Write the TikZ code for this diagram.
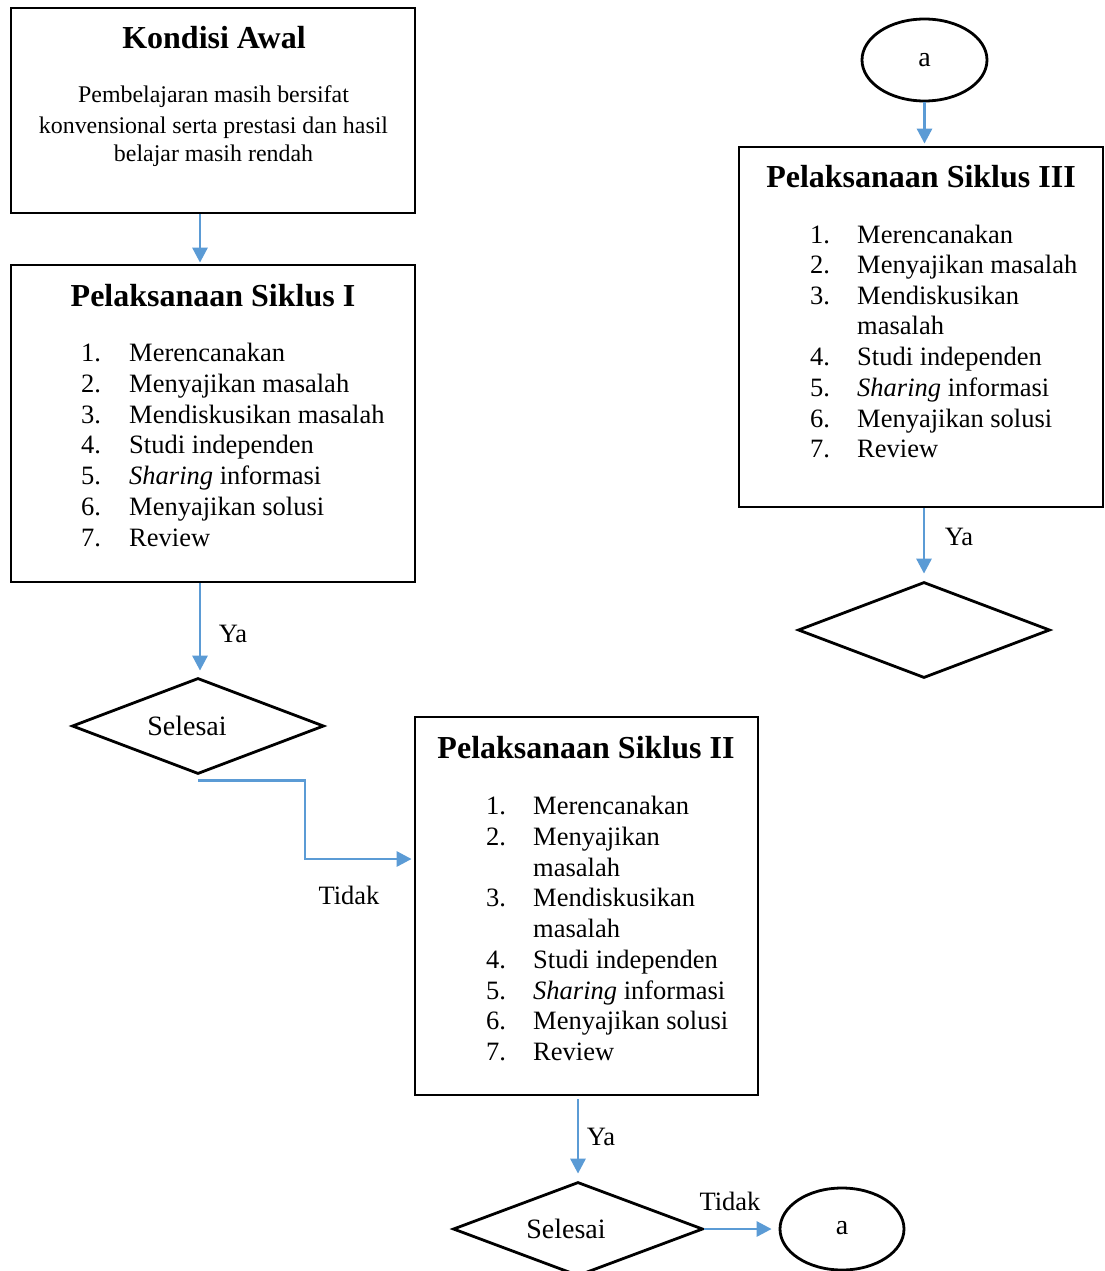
\documentclass[tikz,border=0pt]{standalone}
\usepackage{fontspec}
\setmainfont{Liberation Serif}
\usetikzlibrary{shapes.geometric,arrows.meta}
\definecolor{flow}{RGB}{91,155,213}
\newcommand\fBody{\fontsize{26.5pt}{30.7pt}\selectfont}
\newcommand\fTitle{\fontsize{32pt}{36pt}\selectfont\bfseries}
\newcommand\fSmall{\fontsize{23.9pt}{29pt}\selectfont}
\newcommand\fSel{\fontsize{28pt}{32pt}\selectfont}
\begin{document}
\begin{tikzpicture}[x=1pt,y=-1pt,
  box/.style={draw,line width=2.8pt,inner sep=0,rectangle},
  dia/.style={draw,line width=2.8pt,inner sep=0,diamond},
  oval/.style={draw,line width=2.8pt,inner sep=0,ellipse},
  conn/.style={draw=flow,line width=2.9pt,-{Triangle[length=15pt,width=15pt]}},
  item/.style={anchor=base west,inner sep=0,font=\fBody},
  ttl/.style={anchor=base,inner sep=0,font=\fTitle},
  lbl/.style={inner sep=0,font=\fBody}]
\useasboundingbox (0,0) rectangle (1104,1271);
\fill[white] (0,0) rectangle (1104,1271);

% boxes
\node[box,minimum width=404,minimum height=205] (k) at (213,110.5) {};
\node[box,minimum width=404,minimum height=317] (s1) at (213,423.5) {};
\node[box,minimum width=343,minimum height=378] (s2) at (586.5,906) {};
\node[box,minimum width=364,minimum height=360] (s3) at (921,327) {};

% decisions and connectors
\node[dia,minimum width=252,minimum height=96] (d1) at (198,726) {};
\node[dia,minimum width=250,minimum height=94] (d2) at (578,1229) {};
\node[dia,minimum width=252,minimum height=96] (d3) at (924,630) {};
\node[oval,minimum width=125,minimum height=82] (a1) at (924.5,60) {};
\node[oval,minimum width=124,minimum height=82] (a2) at (842,1229) {};

% texts
\node[ttl] (kt) at (214,49) {Kondisi Awal};
\node[anchor=base,inner sep=0,font=\fSmall] (kx1) at (213.5,103) {Pembelajaran masih bersifat};
\node[anchor=base,inner sep=0,font=\fSmall] (kx2) at (213.5,133) {konvensional serta prestasi dan hasil};
\node[anchor=base,inner sep=0,font=\fSmall] (kx3) at (213.5,161) {belajar masih rendah};

\node[ttl] (s1t) at (213,306) {Pelaksanaan Siklus I};
\foreach \y/\n/\t [count=\i] in {361/1./Merencanakan, 392/2./Menyajikan masalah,
  423/3./Mendiskusikan masalah, 453/4./Studi independen,
  484/5./\textit{Sharing} informasi, 515/6./Menyajikan solusi, 546/7./Review}
{\node[item] (s1n\i) at (81,\y) {\n}; \node[item] (s1x\i) at (129,\y) {\t};}

\node[ttl] (s2t) at (586,758) {Pelaksanaan Siklus II};
\foreach \y/\n/\t [count=\i] in {814/1./Merencanakan, 845/2./Menyajikan,
  876//masalah, 906/3./Mendiskusikan, 937//masalah, 968/4./Studi independen,
  999/5./\textit{Sharing} informasi, 1029/6./Menyajikan solusi, 1060/7./Review}
{\node[item] (s2n\i) at (486,\y) {\n}; \node[item] (s2x\i) at (533,\y) {\t};}

\node[ttl] (s3t) at (921,187) {Pelaksanaan Siklus III};
\foreach \y/\n/\t [count=\i] in {243/1./Merencanakan, 273/2./Menyajikan masalah,
  304/3./Mendiskusikan, 334//masalah, 365/4./Studi independen,
  396/5./\textit{Sharing} informasi, 427/6./Menyajikan solusi, 457/7./Review}
{\node[item] (s3n\i) at (810,\y) {\n}; \node[item] (s3x\i) at (857,\y) {\t};}

\node[inner sep=0,font=\fSel] (d1t) at (187,726) {Selesai};
\node[inner sep=0,font=\fSel] (d2t) at (566,1229) {Selesai};
\node[inner sep=0,font=\fSel] (a1t) at (924.5,60) {a};
\node[inner sep=0,font=\fSel] (a2t) at (842,1228) {a};

\node[lbl] (ya1) at (233,634) {Ya};
\node[lbl] (ya2) at (601,1137) {Ya};
\node[lbl] (ya3) at (959,537) {Ya};
\node[lbl] (td1) at (349,895) {Tidak};
\node[lbl] (td2) at (730,1201) {Tidak};

% connectors
\draw[conn,shorten >=1pt] ([xshift=-13pt]k.south) -- ([xshift=-13pt]s1.north);
\draw[conn,shorten >=6pt] ([xshift=2pt]s1.south -| d1.north) -- ([xshift=2pt]d1.north);
\coordinate (t1) at (305,820);
\draw[conn,shorten >=2pt] ([yshift=-5pt]d1.south) -| (t1) |- ([yshift=47pt]s2.west);
\draw[conn,shorten <=3pt,shorten >=7pt] (s2.south -| d2.north) -- (d2.north);
\draw[conn,shorten >=7pt] (d2.east) -- (d2.east -| a2.west);
\draw[conn,shorten >=2pt] (a1.south) -- (s3.north -| a1.south);
\draw[conn,shorten >=7pt] (s3.south -| d3.north) -- (d3.north);
\end{tikzpicture}
\end{document}
